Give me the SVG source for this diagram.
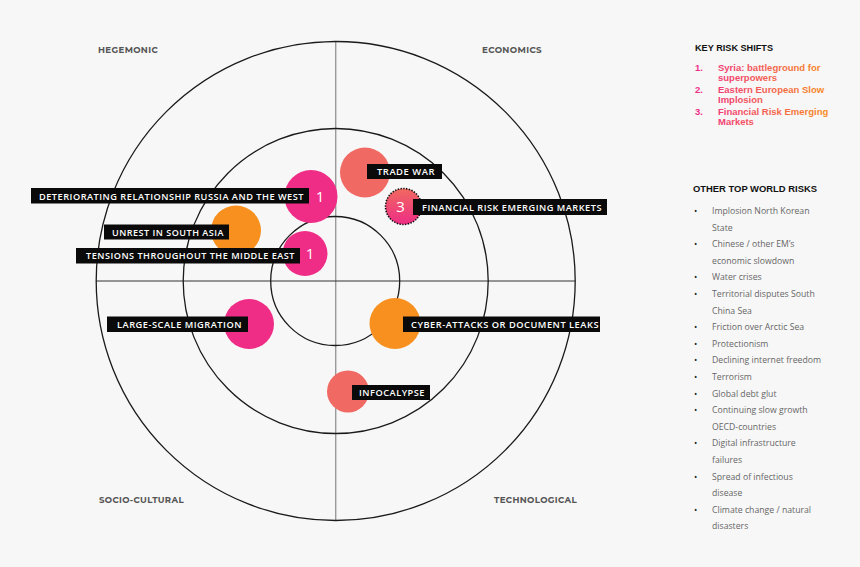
<svg xmlns="http://www.w3.org/2000/svg" width="860" height="567" viewBox="0 0 860 567">
<defs>
<linearGradient id="finGrad" x1="0" y1="0" x2="0" y2="1">
<stop offset="0" stop-color="#f0695f"/>
<stop offset="1" stop-color="#ee2d86"/>
</linearGradient>
<linearGradient id="keyGrad" gradientUnits="userSpaceOnUse" x1="695" y1="0" x2="835" y2="0">
<stop offset="0" stop-color="#ef2d86"/>
<stop offset="1" stop-color="#f7901e"/>
</linearGradient>
<style>
.ring{fill:none;stroke:#1a1a1a;stroke-width:1.3}
.quad{font-family:"Montserrat","Liberation Sans",Arial,sans-serif;font-weight:bold;font-size:9.5px;fill:#555;letter-spacing:0.4px}
.lbl{fill:#0a0a0a}
.lt{font-family:"Open Sans","Liberation Sans",Arial,sans-serif;font-weight:600;font-size:9px;fill:#fff;letter-spacing:0.5px}
.num{font-family:"Open Sans","Liberation Sans",Arial,sans-serif;font-size:15px;fill:#fff;text-anchor:middle}
.pink{fill:#ef2d86}
.orange{fill:#f7901e}
.salmon{fill:#f06a63}
.head{font-family:"Liberation Sans",Arial,sans-serif;font-weight:bold;font-size:9px;fill:#111}
.key{font-family:"Liberation Sans",Arial,sans-serif;font-weight:bold;font-size:9.5px;fill:url(#keyGrad)}
.li{font-family:"Open Sans","Noto Sans",sans-serif;font-size:8.7px;fill:#666}
.bu{fill:#222}
</style>
</defs>
<rect width="860" height="567" fill="#f7f7f7"/>
<g id="grid">
<line x1="335.7" y1="41" x2="335.7" y2="520" stroke="#9a9a9a" stroke-width="1.4"/>
<line x1="96" y1="281" x2="575" y2="281" stroke="#333" stroke-width="1"/>
<circle class="ring" cx="335.7" cy="281" r="239.5"/>
<circle class="ring" cx="335.7" cy="281" r="152.5"/>
<circle class="ring" cx="335.2" cy="281" r="64.5"/>
</g>
<g id="quadrants">
<text class="quad" x="98" y="53" textLength="60" lengthAdjust="spacingAndGlyphs">HEGEMONIC</text>
<text class="quad" x="482" y="53" textLength="60" lengthAdjust="spacingAndGlyphs">ECONOMICS</text>
<text class="quad" x="99" y="503" textLength="85" lengthAdjust="spacingAndGlyphs">SOCIO-CULTURAL</text>
<text class="quad" x="494" y="503" textLength="83" lengthAdjust="spacingAndGlyphs">TECHNOLOGICAL</text>
</g>
<g id="connectors"></g>
<g id="node-trade-war">
<circle class="salmon" cx="365" cy="172.5" r="25"/>
<rect class="lbl" x="367" y="164" width="75" height="15"/>
<text class="lt" x="377" y="175.3" textLength="58" lengthAdjust="spacingAndGlyphs">TRADE WAR</text>
</g>
<g id="node-russia">
<circle class="pink" cx="311" cy="196.5" r="26.5"/>
<rect class="lbl" x="31" y="188" width="278" height="15.5"/>
<text class="lt" x="39" y="199.5" textLength="265" lengthAdjust="spacingAndGlyphs">DETERIORATING RELATIONSHIP RUSSIA AND THE WEST</text>
<text class="num" x="320" y="201.5">1</text>
</g>
<g id="node-financial">
<circle cx="403.5" cy="206.5" r="18" fill="url(#finGrad)" stroke="#111" stroke-width="1.6" stroke-dasharray="1.4,1.4"/>
<rect class="lbl" x="413" y="199" width="194" height="16"/>
<text class="lt" x="422" y="210.5" textLength="180" lengthAdjust="spacingAndGlyphs">FINANCIAL RISK EMERGING MARKETS</text>
<text class="num" x="400.5" y="212">3</text>
</g>
<g id="node-unrest">
<circle class="orange" cx="236" cy="230.5" r="25"/>
<rect class="lbl" x="104" y="224.5" width="125" height="15"/>
<text class="lt" x="112" y="235.8" textLength="112" lengthAdjust="spacingAndGlyphs">UNREST IN SOUTH ASIA</text>
</g>
<g id="node-tensions">
<circle class="pink" cx="305" cy="253.5" r="22.5"/>
<rect class="lbl" x="76" y="248" width="224" height="15.5"/>
<text class="lt" x="86" y="259.3" textLength="209" lengthAdjust="spacingAndGlyphs">TENSIONS THROUGHOUT THE MIDDLE EAST</text>
<text class="num" x="310" y="258.5">1</text>
</g>
<g id="node-migration">
<circle class="pink" cx="249" cy="324" r="25"/>
<rect class="lbl" x="107" y="316.5" width="141" height="15.5"/>
<text class="lt" x="117" y="327.8" textLength="125" lengthAdjust="spacingAndGlyphs">LARGE-SCALE MIGRATION</text>
</g>
<g id="node-cyber">
<circle class="orange" cx="395" cy="323.5" r="25.5"/>
<rect class="lbl" x="403" y="316.5" width="197" height="15.5"/>
<text class="lt" x="411" y="327.8" textLength="188" lengthAdjust="spacingAndGlyphs">CYBER-ATTACKS OR DOCUMENT LEAKS</text>
</g>
<g id="node-infocalypse">
<circle class="salmon" cx="348" cy="391.5" r="21"/>
<rect class="lbl" x="352" y="385" width="78" height="15"/>
<text class="lt" x="359" y="396.3" textLength="66" lengthAdjust="spacingAndGlyphs">INFOCALYPSE</text>
</g>
<g id="key-risk-shifts">
<text class="head" x="695" y="51" textLength="78" lengthAdjust="spacingAndGlyphs">KEY RISK SHIFTS</text>
<text class="key" x="695" y="71">1.</text>
<text class="key" x="718" y="71">Syria: battleground for</text>
<text class="key" x="718" y="81">superpowers</text>
<text class="key" x="695" y="93">2.</text>
<text class="key" x="718" y="93">Eastern European Slow</text>
<text class="key" x="718" y="103">Implosion</text>
<text class="key" x="695" y="115">3.</text>
<text class="key" x="718" y="115">Financial Risk Emerging</text>
<text class="key" x="718" y="125">Markets</text>
</g>
<g id="other-risks">
<text class="head" x="693" y="192" textLength="124" lengthAdjust="spacingAndGlyphs">OTHER TOP WORLD RISKS</text>
<g class="li">
<text class="bu" x="694" y="214">•</text><text x="712" y="214">Implosion North Korean</text>
<text x="712" y="230.6">State</text>
<text class="bu" x="694" y="247.2">•</text><text x="712" y="247.2">Chinese / other EM’s</text>
<text x="712" y="263.8">economic slowdown</text>
<text class="bu" x="694" y="280.4">•</text><text x="712" y="280.4">Water crises</text>
<text class="bu" x="694" y="297">•</text><text x="712" y="297">Territorial disputes South</text>
<text x="712" y="313.6">China Sea</text>
<text class="bu" x="694" y="330.2">•</text><text x="712" y="330.2">Friction over Arctic Sea</text>
<text class="bu" x="694" y="346.8">•</text><text x="712" y="346.8">Protectionism</text>
<text class="bu" x="694" y="363.4">•</text><text x="712" y="363.4">Declining internet freedom</text>
<text class="bu" x="694" y="380">•</text><text x="712" y="380">Terrorism</text>
<text class="bu" x="694" y="396.6">•</text><text x="712" y="396.6">Global debt glut</text>
<text class="bu" x="694" y="413.2">•</text><text x="712" y="413.2">Continuing slow growth</text>
<text x="712" y="429.8">OECD-countries</text>
<text class="bu" x="694" y="446.4">•</text><text x="712" y="446.4">Digital infrastructure</text>
<text x="712" y="463">failures</text>
<text class="bu" x="694" y="479.6">•</text><text x="712" y="479.6">Spread of infectious</text>
<text x="712" y="496.2">disease</text>
<text class="bu" x="694" y="512.8">•</text><text x="712" y="512.8">Climate change / natural</text>
<text x="712" y="529.4">disasters</text>
</g>
</g>
</svg>
